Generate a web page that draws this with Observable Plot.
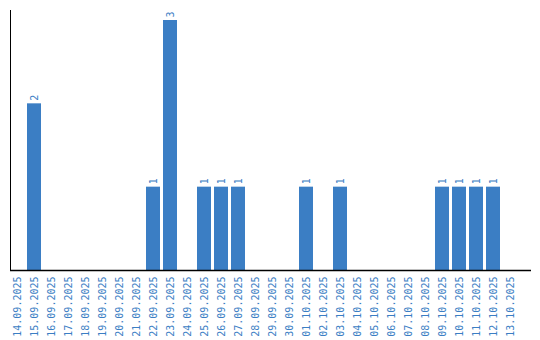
<!DOCTYPE html>
<html>
<head>
<meta charset="utf-8">
<script src="https://cdn.jsdelivr.net/npm/d3@7"></script>
<script src="https://cdn.jsdelivr.net/npm/@observablehq/plot@0.6"></script>
<style>
  html, body { margin: 0; padding: 0; background: #fff; }
  #chart svg { display: block; }
</style>
</head>
<body>
<div id="chart"></div>
<script>
const dates = [
  "14.09.2025","15.09.2025","16.09.2025","17.09.2025","18.09.2025","19.09.2025",
  "20.09.2025","21.09.2025","22.09.2025","23.09.2025","24.09.2025","25.09.2025",
  "26.09.2025","27.09.2025","28.09.2025","29.09.2025","30.09.2025","01.10.2025",
  "02.10.2025","03.10.2025","04.10.2025","05.10.2025","06.10.2025","07.10.2025",
  "08.10.2025","09.10.2025","10.10.2025","11.10.2025","12.10.2025","13.10.2025"
];
const counts = [0,2,0,0,0,0,0,0,1,3,0,1,1,1,0,0,0,1,0,1,0,0,0,0,0,1,1,1,1,0];

const data = dates.map((d, i) => ({date: d, count: counts[i]}));
const nonzero = data.filter(d => d.count > 0);

const blue = "#3b7ec4";
const font = "DejaVu Sans Mono, monospace";

const chart = Plot.plot({
  width: 540,
  height: 340,
  marginLeft: 10,
  marginRight: 9,
  marginTop: 10,
  marginBottom: 70,
  style: {fontFamily: font, fontSize: "10px", background: "#fff"},
  x: {domain: dates, range: [10, 517], paddingInner: 3/17, paddingOuter: 0, align: 0, label: null},
  y: {domain: [0, 3], range: [270, 20], label: null},
  marks: [
    Plot.barY(nonzero, {x: "date", y: "count", fill: blue}),
    Plot.text(nonzero, {
      x: "date", y: "count", text: d => String(d.count),
      rotate: -90, textAnchor: "start", dy: -3, fill: blue,
      fontFamily: font, fontSize: 10
    }),
    Plot.axisX({tickRotate: -90, tickSize: 0, tickPadding: 6, fill: blue, fontFamily: font, fontSize: 10, label: null}),
    Plot.axisY({ticks: [], label: null}),
    Plot.frame({anchor: "left", stroke: "#000"}),
    Plot.ruleY([0], {stroke: "#000", strokeWidth: 1.5})
  ]
});
document.getElementById("chart").appendChild(chart);
</script>
</body>
</html>
